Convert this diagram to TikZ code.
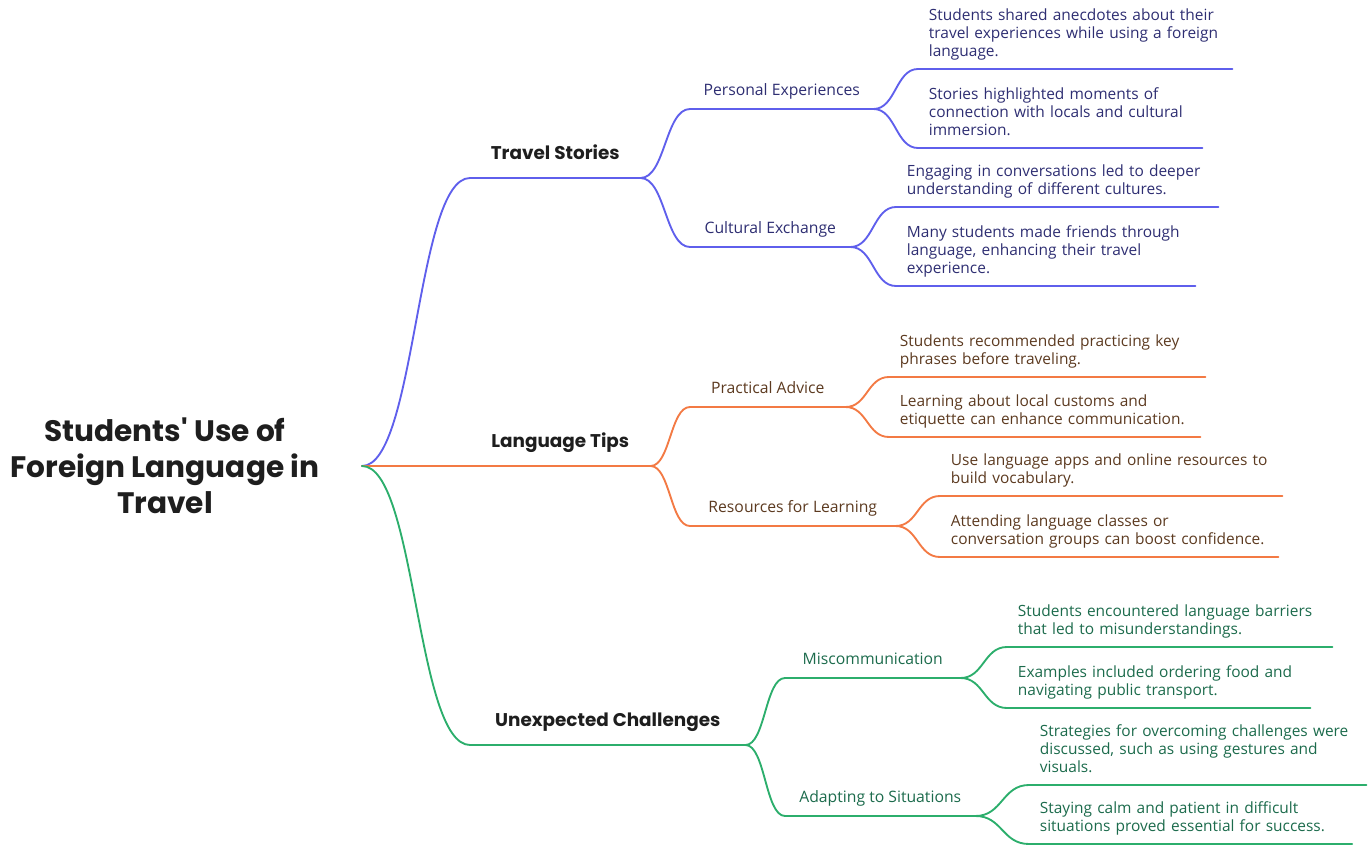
\documentclass[tikz,border=0pt]{standalone}
\usepackage{fontspec}
\setmainfont{Open Sans}
\newfontfamily\headfont{Poppins}
\usetikzlibrary{calc}
\definecolor{blueline}{HTML}{5F5FEC}
\definecolor{orangeline}{HTML}{F37A44}
\definecolor{greenline}{HTML}{2CAE6C}
\definecolor{bluetext}{HTML}{2E2E72}
\definecolor{orangetext}{HTML}{5C3A20}
\definecolor{greentext}{HTML}{1C6B4C}
\definecolor{headtext}{HTML}{1E1E1E}

\begin{document}
\begin{tikzpicture}[x=0.75pt,y=-0.75pt,
    limb/.style={to path={.. controls ($(\tikztostart)!0.5!(\tikztostart -| \tikztotarget)$) and ($(\tikztotarget)!0.5!(\tikztotarget -| \tikztostart)$) .. (\tikztotarget) \tikztonodes}},
    wire/.style={draw=#1, line width=1.4pt, line cap=round},
    branch/.style={anchor=south west, text=headtext, font=\headfont\bfseries\fontsize{13.8}{16}\selectfont, text depth=3pt, inner ysep=11pt, inner xsep=0pt},
    twig/.style={anchor=south west, text=#1, font=\fontsize{11.8}{14}\selectfont, text depth=3pt, inner ysep=7pt, inner xsep=0pt},
    leaf/.style={anchor=south west, text=#1, font=\fontsize{11.6}{13.5}\selectfont, execute at end node=\strut, inner ysep=5pt, inner xsep=8pt, align=left}]
    \useasboundingbox (0,0) rectangle (1368,845);

    % Central topic
    \node[text=headtext, font=\headfont\bfseries\fontsize{22.2}{27}\selectfont, align=center] (rt) at (165,466) {Students' Use of\\Foreign Language in\\Travel};
    \coordinate (hub) at (362,466);

    % Main branches
    \node[branch, minimum width=127.5pt] (b1) at (470,178) {Travel Stories};
    \node[branch, minimum width=135pt] (b2) at (470,466) {Language Tips};
    \node[branch, minimum width=206.25pt] (b3) at (470,745) {Unexpected Challenges};

    % Sub-topics
    \node[twig=bluetext, minimum width=137.25pt] (s11) at (690,109) {Personal Experiences};
    \node[twig=bluetext, minimum width=120pt] (s12) at (690,247) {Cultural Exchange};
    \node[twig=orangetext, minimum width=116.25pt] (s21) at (690,407) {Practical Advice};
    \node[twig=orangetext, minimum width=153.75pt] (s22) at (690,526) {Resources for Learning};
    \node[twig=greentext, minimum width=131.25pt] (s31) at (785,678) {Miscommunication};
    \node[twig=greentext, minimum width=142.5pt] (s32) at (785,816) {Adapting to Situations};

    % Details
    \node[leaf=bluetext, text width=219.5pt] (l111) at (918,69) {Students shared anecdotes about their\\travel experiences while using a foreign\\language.};
    \node[leaf=bluetext, text width=197pt] (l112) at (918,148) {Stories highlighted moments of\\connection with locals and cultural\\immersion.};
    \node[leaf=bluetext, text width=225.5pt] (l121) at (896,207) {Engaging in conversations led to deeper\\understanding of different cultures.};
    \node[leaf=bluetext, text width=208.25pt] (l122) at (896,286) {Many students made friends through\\language, enhancing their travel\\experience.};
    \node[leaf=orangetext, text width=221pt] (l211) at (889,377) {Students recommended practicing key\\phrases before traveling.};
    \node[leaf=orangetext, text width=217.25pt] (l212) at (889,437) {Learning about local customs and\\etiquette can enhance communication.};
    \node[leaf=orangetext, text width=240.5pt] (l221) at (940,496) {Use language apps and online resources to\\build vocabulary.};
    \node[leaf=orangetext, text width=237.5pt] (l222) at (940,557) {Attending language classes or\\conversation groups can boost confidence.};
    \node[leaf=greentext, text width=227.75pt] (l311) at (1007,647) {Students encountered language barriers\\that led to misunderstandings.};
    \node[leaf=greentext, text width=211.25pt] (l312) at (1007,708) {Examples included ordering food and\\navigating public transport.};
    \node[leaf=greentext, text width=236.75pt] (l321) at (1029,785) {Strategies for overcoming challenges were\\discussed, such as using gestures and\\visuals.};
    \node[leaf=greentext, text width=226pt] (l322) at (1029,844) {Staying calm and patient in difficult\\situations proved essential for success.};

    % Travel Stories wires
    \draw[wire=blueline] (hub) to[limb] (b1.south west) -- (b1.south east);
    \draw[wire=blueline] (b1.south east) to[limb] (s11.south west) -- (s11.south east);
    \draw[wire=blueline] (b1.south east) to[limb] (s12.south west) -- (s12.south east);
    \draw[wire=blueline] (s11.south east) to[limb] (l111.south west) -- (l111.south east);
    \draw[wire=blueline] (s11.south east) to[limb] (l112.south west) -- (l112.south east);
    \draw[wire=blueline] (s12.south east) to[limb] (l121.south west) -- (l121.south east);
    \draw[wire=blueline] (s12.south east) to[limb] (l122.south west) -- (l122.south east);

    % Language Tips wires
    \draw[wire=orangeline] (hub) to[limb] (b2.south west) -- (b2.south east);
    \draw[wire=orangeline] (b2.south east) to[limb] (s21.south west) -- (s21.south east);
    \draw[wire=orangeline] (b2.south east) to[limb] (s22.south west) -- (s22.south east);
    \draw[wire=orangeline] (s21.south east) to[limb] (l211.south west) -- (l211.south east);
    \draw[wire=orangeline] (s21.south east) to[limb] (l212.south west) -- (l212.south east);
    \draw[wire=orangeline] (s22.south east) to[limb] (l221.south west) -- (l221.south east);
    \draw[wire=orangeline] (s22.south east) to[limb] (l222.south west) -- (l222.south east);

    % Unexpected Challenges wires
    \draw[wire=greenline] (hub) to[limb] (b3.south west) -- (b3.south east);
    \draw[wire=greenline] (b3.south east) to[limb] (s31.south west) -- (s31.south east);
    \draw[wire=greenline] (b3.south east) to[limb] (s32.south west) -- (s32.south east);
    \draw[wire=greenline] (s31.south east) to[limb] (l311.south west) -- (l311.south east);
    \draw[wire=greenline] (s31.south east) to[limb] (l312.south west) -- (l312.south east);
    \draw[wire=greenline] (s32.south east) to[limb] (l321.south west) -- (l321.south east);
    \draw[wire=greenline] (s32.south east) to[limb] (l322.south west) -- (l322.south east);
\end{tikzpicture}
\end{document}
